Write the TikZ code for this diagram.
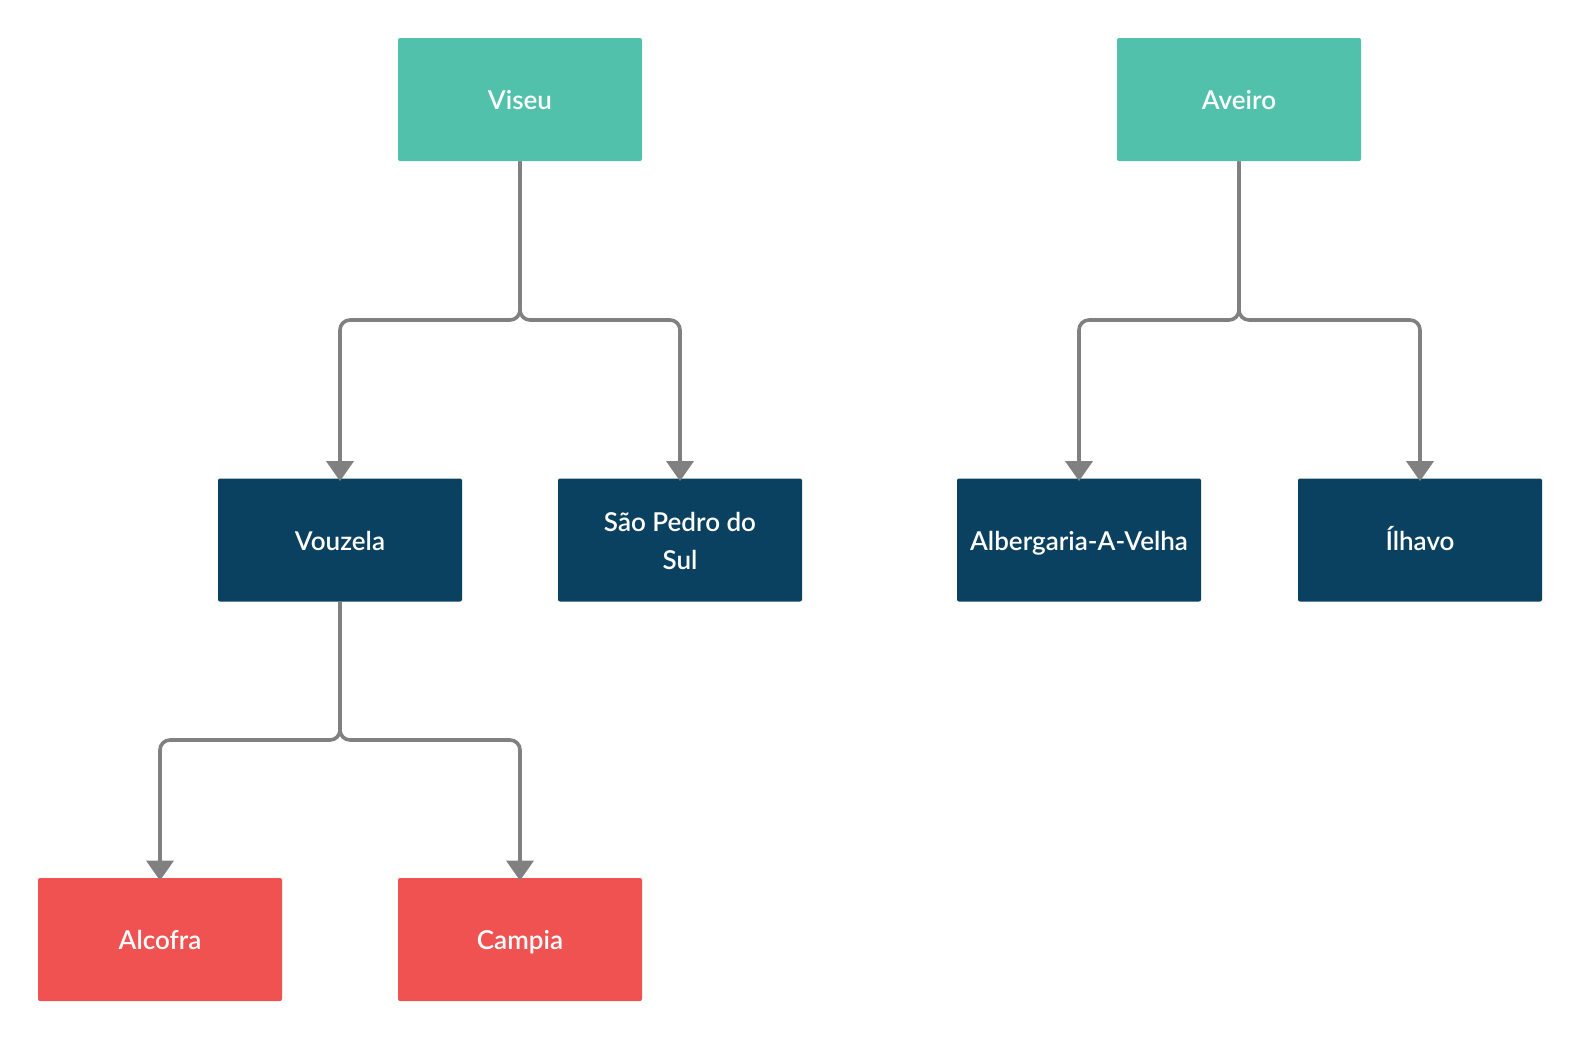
\documentclass[tikz,border=0pt]{standalone}
\usepackage{fontspec}
\setmainfont{Lato}[BoldFont={Lato Semibold}]
\usetikzlibrary{positioning,arrows.meta}
\definecolor{distrito}{RGB}{81,193,171}
\definecolor{concelho}{RGB}{11,65,96}
\definecolor{freguesia}{RGB}{240,82,82}
\definecolor{ligacao}{RGB}{128,128,128}
\begin{document}
\begin{tikzpicture}[x=0.5pt, y=-0.5pt]
        \tikzstyle{every node}=[minimum width=122pt, minimum height=61.5pt, rounded corners=1pt, text=white, font=\fontsize{13}{19}\selectfont\bfseries, align=center, inner sep=0pt, text height=13pt, text depth=3pt]
        \tikzstyle{distritobox}=[fill=distrito]
        \tikzstyle{concelhobox}=[fill=concelho]
        \tikzstyle{freguesiabox}=[fill=freguesia]
        \tikzstyle{ligar}=[draw=ligacao, line width=1.8pt, rounded corners=5pt, -{Triangle[width=13.5pt, length=10pt]}, shorten >=-1.5pt]

        \useasboundingbox (0,0) rectangle (1580,1040);

        \node (viseu)    [distritobox]  at (520,99.5)  {Viseu};
        \node (aveiro)   [distritobox]  at (1239,99.5) {Aveiro};
        \node (vouzela)  [concelhobox]  at (340,540)   {Vouzela};
        \node (saopedro) [concelhobox, text height=32pt]  at (680,540) {São Pedro do\\Sul};
        \node (albergaria) [concelhobox] at (1079,540) {Albergaria-A-Velha};
        \node (ilhavo)   [concelhobox]  at (1420,540)  {Ílhavo};
        \node (alcofra)  [freguesiabox] at (160,939.5) {Alcofra};
        \node (campia)   [freguesiabox] at (520,939.5) {Campia};

        \coordinate (jviseu)   at (520,320);
        \coordinate (javeiro)  at (1239,320);
        \coordinate (jvouzela) at (340,740);

        \draw[ligar] (viseu.south) -- (jviseu) -| (vouzela.north);
        \draw[ligar] (viseu.south) -- (jviseu) -| (saopedro.north);
        \draw[ligar] (aveiro.south) -- (javeiro) -| (albergaria.north);
        \draw[ligar] (aveiro.south) -- (javeiro) -| (ilhavo.north);
        \draw[ligar] (vouzela.south) -- (jvouzela) -| (alcofra.north);
        \draw[ligar] (vouzela.south) -- (jvouzela) -| (campia.north);

    \end{tikzpicture}
\end{document}
